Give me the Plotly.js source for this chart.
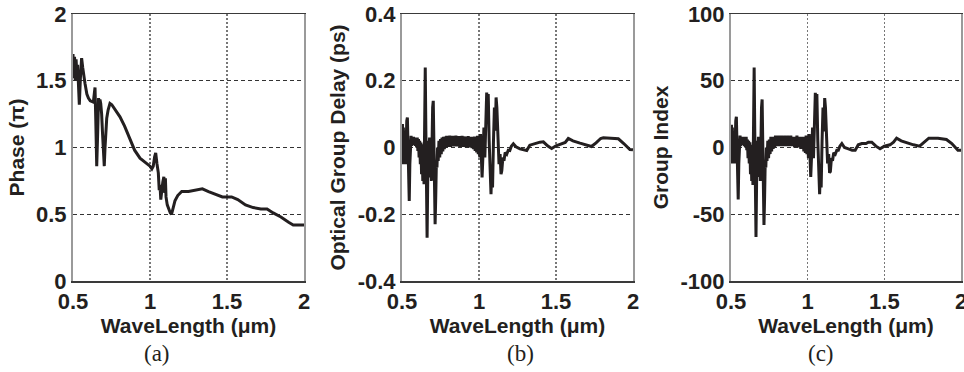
<!DOCTYPE html>
<html>
<head>
<meta charset="utf-8">
<script src="https://cdn.plot.ly/plotly-3.0.1.min.js"></script>
<style>html,body{margin:0;padding:0;background:#fff}#chart{width:964px;height:372px}</style>
</head>
<body>
<div id="chart"></div>
<script>
// ---------- Data ----------
// (a) Phase (units of pi) vs wavelength (um)
const wlPhase = [0.500,0.505,0.510,0.515,0.520,0.525,0.530,0.535,0.541,0.548,0.556,0.563,0.570,0.578,0.590,0.600,0.612,0.624,0.632,0.638,0.643,0.648,0.654,0.660,0.666,0.671,0.675,0.680,0.686,0.692,0.698,0.703,0.708,0.714,0.719,0.728,0.740,0.752,0.770,0.805,0.835,0.870,0.900,0.935,0.965,0.990,1.000,1.012,1.021,1.030,1.037,1.045,1.054,1.060,1.065,1.070,1.076,1.083,1.090,1.096,1.100,1.104,1.112,1.122,1.132,1.140,1.150,1.162,1.180,1.206,1.250,1.314,1.340,1.380,1.430,1.470,1.530,1.570,1.620,1.670,1.720,1.760,1.800,1.850,1.900,1.930,2.000];
const phase   = [1.70,1.52,1.68,1.50,1.66,1.55,1.62,1.48,1.32,1.52,1.67,1.60,1.52,1.48,1.40,1.37,1.35,1.34,1.34,1.40,1.45,1.20,0.86,1.10,1.37,1.30,1.36,1.33,1.25,1.10,0.95,0.86,1.00,1.18,1.22,1.28,1.33,1.32,1.29,1.23,1.16,1.06,0.98,0.92,0.89,0.87,0.86,0.84,0.86,0.93,0.96,0.88,0.81,0.68,0.72,0.61,0.68,0.74,0.78,0.66,0.77,0.63,0.57,0.53,0.51,0.50,0.55,0.60,0.64,0.67,0.67,0.685,0.69,0.67,0.65,0.63,0.63,0.61,0.57,0.55,0.54,0.54,0.51,0.48,0.44,0.42,0.42];

// (b), (c) wavelength grid (um)
const wlDelay = [0.500,0.503,0.506,0.509,0.512,0.515,0.518,0.521,0.524,0.527,0.531,0.535,0.539,0.543,0.547,0.551,0.555,
0.559,0.563,0.567,0.571,0.575,0.579,0.583,0.587,0.591,0.595,0.599,0.603,0.607,0.611,0.615,0.619,0.623,0.627,0.631,0.635,0.639,0.643,
0.647,0.651,0.655,0.659,0.663,0.667,0.671,0.675,0.679,0.683,0.687,0.691,0.695,0.699,0.703,0.707,0.711,0.715,0.719,0.723,0.727,0.731,
0.735,0.740,0.745,0.750,0.755,0.760,0.765,0.770,0.775,0.780,0.785,0.790,0.795,0.800,0.805,0.810,0.815,0.820,0.825,0.830,0.835,0.840,0.845,0.850,0.855,0.860,0.865,0.870,0.875,0.880,0.885,0.890,0.895,0.900,0.905,0.910,0.915,0.920,0.925,0.930,0.935,0.940,0.945,0.950,0.955,0.960,0.965,0.970,0.975,0.980,0.985,0.990,0.995,1.000,1.005,1.010,
1.015,1.020,1.026,1.032,1.038,1.044,1.050,1.055,1.060,1.066,1.072,1.078,1.083,1.088,1.094,1.100,1.106,1.111,1.116,1.122,1.130,1.137,1.143,1.148,1.155,1.162,
1.170,1.180,1.190,1.200,1.210,1.223,1.240,1.266,1.290,1.310,1.330,1.353,1.380,1.396,1.418,1.445,1.472,1.500,1.537,1.560,1.580,1.610,1.656,1.690,1.730,1.760,1.790,1.807,1.850,1.905,1.940,1.980,2.000];

// (b) Optical group delay (ps)
const groupDelay = [0.00,0.07,-0.05,0.06,-0.04,0.05,-0.03,0.04,-0.05,0.03,0.08,0.09,0.02,-0.10,-0.16,-0.05,0.02,
0.035,0.005,0.03,0.008,0.032,0.01,0.03,0.005,0.028,0.0,0.03,-0.01,0.025,-0.03,0.02,-0.05,0.015,-0.08,0.01,-0.10,0.0,-0.11,
0.10,0.24,0.05,-0.15,-0.27,-0.10,0.02,-0.06,0.03,-0.09,0.02,-0.10,0.05,0.12,0.14,0.02,-0.12,-0.23,-0.15,-0.05,-0.06,0.0,
-0.04,0.02,-0.03,0.025,-0.02,0.03,-0.012,0.032,-0.005,0.033,0.0,0.035,0.002,0.033,0.003,0.036,0.002,0.034,0.004,0.035,0.003,0.033,0.004,0.036,0.003,0.033,0.004,0.034,0.002,0.032,0.003,0.035,0.002,0.031,0.003,0.033,0.001,0.030,0.002,0.034,0.0,0.030,0.001,0.032,-0.002,0.029,-0.005,0.033,-0.01,0.03,-0.015,0.035,-0.02,0.032,-0.03,0.04,
-0.05,-0.09,-0.02,0.06,-0.03,0.12,0.165,0.10,0.16,0.02,-0.08,-0.14,-0.06,-0.12,0.02,0.12,0.05,0.15,0.12,0.02,-0.05,-0.02,-0.08,-0.07,-0.03,-0.04,
-0.015,-0.02,-0.008,-0.009,0.004,0.011,0.002,-0.004,-0.006,-0.009,0.007,0.011,0.014,0.016,0.017,0.005,-0.003,0.005,0.01,0.015,0.027,0.02,0.013,0.008,0.003,0.014,0.027,0.029,0.028,0.026,0.012,-0.006,-0.007];

// (c) Group index
const groupIndex = [0,17,-12,15,-10,12,-8,10,-12,8,20,23,5,-25,-39,-12,5,
9,1,8,2,8,2,8,1,7,0,8,-2,6,-8,5,-12,4,-20,2,-25,0,-28,
25,60,12,-38,-67,-25,5,-15,8,-22,5,-25,12,30,36,5,-30,-58,-38,-12,-15,0,
-10,5,-8,6,-5,8,-3,8,-1,8,0,9,1,8,1,9,1,9,1,9,1,8,1,9,1,8,1,9,1,8,1,9,1,8,1,8,0,8,1,9,0,8,0,8,-1,7,-1,8,-3,8,-4,9,-5,8,-8,10,
-12,-22,-5,15,-8,30,41,25,40,5,-20,-35,-15,-30,5,30,12,37,30,5,-12,-5,-19,-18,-8,-10,
-4,-5,-2,-2,1,3,0,-1,-2,-2,2,3,3,4,4,1,-1,1,2,4,7,5,3,2,1,4,7,7,7,6,3,-2,-2];

const xTicks = [0.5, 1, 1.5, 2];
const xTickText = ['0.5', '1', '1.5', '2'];
const yTicksA = [0, 0.5, 1, 1.5, 2];
const yTextA = ['0', '0.5', '1', '1.5', '2'];
const yTicksB = [-0.4, -0.2, 0, 0.2, 0.4];
const yTextB = ['-0.4', '-0.2', '0', '0.2', '0.4'];
const yTicksC = [-100, -50, 0, 50, 100];
const yTextC = ['-100', '-50', '0', '50', '100'];
const panelLabels = ['(a)', '(b)', '(c)'];

// ---------- Styling ----------
const ink = '#231f20';
const sans = 'Liberation Sans, Arial, Helvetica, sans-serif';
const tickFont = {family: sans, size: 22, color: ink, weight: 'bold'};
const titleFont = {family: sans, size: 21, color: ink, weight: 'bold'};
const lineStyle = {color: ink, width: 3};

// plot-area pixel geometry (for converting label pixel positions to paper coords)
const M = {l: 73, r: 3, t: 14, b: 91};
const plotW = 964 - M.l - M.r, plotH = 372 - M.t - M.b;
const px2x = p => (p - M.l) / plotW;
const px2y = p => (372 - M.b - p) / plotH;

function xAxis(domain, anchor) {
  return {
    domain: domain, anchor: anchor, range: [0.5, 2],
    tickvals: xTicks, ticktext: xTickText, ticks: '',
    tickfont: tickFont, ticklabeloverflow: 'allow',
    showgrid: true, gridcolor: '#777', gridwidth: 1.3, griddash: '2px,2px',
    showline: true, linecolor: '#3a3a3a', linewidth: 1.5, mirror: true,
    zeroline: false, fixedrange: true,
    title: {text: 'WaveLength (μm)', font: titleFont, standoff: 4}
  };
}
function yAxis(range, ticks, text, title, anchor) {
  return {
    domain: [0, 1], anchor: anchor, range: range,
    tickvals: ticks, ticktext: text, ticks: '', tickfont: tickFont,
    showgrid: true, gridcolor: '#333', gridwidth: 1, griddash: '4px,3px',
    showline: true, linecolor: '#9a9a9a', linewidth: 2, mirror: true,
    zeroline: false, fixedrange: true,
    title: {text: title, font: titleFont, standoff: 6}
  };
}

const data = [
  {x: wlPhase, y: phase, xaxis: 'x', yaxis: 'y', type: 'scatter', mode: 'lines', line: lineStyle, hoverinfo: 'skip'},
  {x: wlDelay, y: groupDelay, xaxis: 'x2', yaxis: 'y2', type: 'scatter', mode: 'lines', line: lineStyle, hoverinfo: 'skip'},
  {x: wlDelay, y: groupIndex, xaxis: 'x3', yaxis: 'y3', type: 'scatter', mode: 'lines', line: lineStyle, hoverinfo: 'skip'}
];

const layout = {
  width: 964, height: 372,
  margin: M,
  paper_bgcolor: '#fff', plot_bgcolor: '#fff',
  showlegend: false,
  font: {family: sans, color: ink},
  xaxis:  xAxis([0, px2x(304)], 'y'),
  xaxis2: xAxis([px2x(402), px2x(633)], 'y2'),
  xaxis3: xAxis([px2x(731), 1.0], 'y3'),
  yaxis:  yAxis([0, 2], yTicksA, yTextA, 'Phase (π)', 'x'),
  yaxis2: yAxis([-0.4, 0.4], yTicksB, yTextB, 'Optical Group Delay (ps)', 'x2'),
  yaxis3: yAxis([-100, 100], yTicksC, yTextC, 'Group Index', 'x3'),
  annotations: [
    {text: panelLabels[0], x: px2x(157), y: px2y(353)},
    {text: panelLabels[1], x: px2x(520), y: px2y(353)},
    {text: panelLabels[2], x: px2x(821), y: px2y(353)}
  ].map(a => Object.assign(a, {xref: 'paper', yref: 'paper', showarrow: false, xanchor: 'center', yanchor: 'middle',
    font: {family: 'Liberation Serif, Times New Roman, serif', size: 23, color: ink}}))
};

Plotly.newPlot('chart', data, layout, {displayModeBar: false, staticPlot: true});
</script>
</body>
</html>
